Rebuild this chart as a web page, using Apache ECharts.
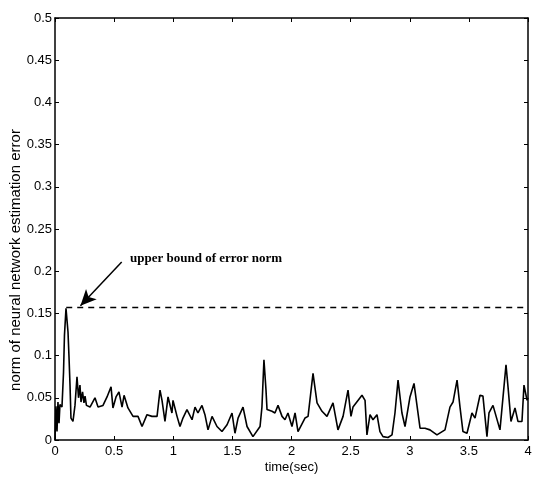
<!DOCTYPE html>
<html>
<head>
<meta charset="utf-8">
<script src="https://cdn.jsdelivr.net/npm/echarts@6/dist/echarts.min.js"></script>
<style>
  html, body { margin: 0; padding: 0; background: #fff; }
  #chart { width: 542px; height: 477px; }
</style>
</head>
<body>
<div id="chart"></div>
<script>
// time (sec) and error norm
var timeData = [
  0, 0.008, 0.017, 0.025, 0.034, 0.042, 0.059, 0.072, 0.080, 0.093,
  0.101, 0.110, 0.118, 0.127, 0.135, 0.152, 0.169, 0.186, 0.199, 0.211,
  0.220, 0.233, 0.245, 0.254, 0.266, 0.296, 0.338, 0.364, 0.406, 0.440,
  0.474, 0.490, 0.516, 0.541, 0.567, 0.584, 0.617, 0.660, 0.702, 0.736,
  0.778, 0.820, 0.863, 0.888, 0.905, 0.930, 0.956, 0.989, 0.998, 1.032,
  1.057, 1.082, 1.116, 1.159, 1.184, 1.209, 1.243, 1.268, 1.294, 1.328,
  1.370, 1.412, 1.455, 1.497, 1.522, 1.548, 1.590, 1.624, 1.674, 1.734,
  1.750, 1.767, 1.784, 1.793, 1.835, 1.860, 1.886, 1.920, 1.945, 1.970,
  2.004, 2.030, 2.055, 2.114, 2.140, 2.182, 2.216, 2.258, 2.300, 2.351,
  2.393, 2.436, 2.478, 2.503, 2.520, 2.596, 2.622, 2.638, 2.664, 2.689,
  2.723, 2.748, 2.774, 2.816, 2.850, 2.875, 2.901, 2.934, 2.960, 3.002,
  3.036, 3.087, 3.129, 3.171, 3.230, 3.298, 3.340, 3.366, 3.400, 3.425,
  3.450, 3.484, 3.526, 3.552, 3.594, 3.619, 3.653, 3.670, 3.704, 3.763,
  3.814, 3.831, 3.856, 3.890, 3.915, 3.949, 3.966, 3.992, 4.0
]
var errData = [
  0.0, 0.04, 0.01, 0.045, 0.02, 0.042, 0.039, 0.08, 0.124, 0.156,
  0.155, 0.128, 0.10, 0.065, 0.026, 0.022, 0.041, 0.075, 0.05, 0.065,
  0.045, 0.057, 0.044, 0.052, 0.041, 0.039, 0.05, 0.039, 0.041, 0.051,
  0.063, 0.038, 0.051, 0.057, 0.039, 0.053, 0.038, 0.028, 0.028, 0.016,
  0.030, 0.028, 0.028, 0.059, 0.047, 0.022, 0.051, 0.032, 0.047, 0.028,
  0.016, 0.026, 0.036, 0.024, 0.039, 0.032, 0.041, 0.030, 0.012, 0.028,
  0.016, 0.010, 0.018, 0.032, 0.008, 0.026, 0.039, 0.016, 0.004, 0.016,
  0.039, 0.095, 0.060, 0.036, 0.034, 0.032, 0.041, 0.028, 0.024, 0.032,
  0.016, 0.032, 0.010, 0.026, 0.028, 0.079, 0.044, 0.034, 0.028, 0.044,
  0.012, 0.028, 0.059, 0.028, 0.039, 0.053, 0.047, 0.006, 0.030, 0.024,
  0.030, 0.010, 0.004, 0.003, 0.006, 0.032, 0.071, 0.032, 0.016, 0.051,
  0.067, 0.014, 0.014, 0.012, 0.006, 0.012, 0.039, 0.045, 0.071, 0.039,
  0.010, 0.008, 0.032, 0.026, 0.053, 0.052, 0.004, 0.032, 0.041, 0.012,
  0.089, 0.063, 0.022, 0.038, 0.022, 0.022, 0.065, 0.047, 0.05
]
// upper bound of the error norm (dashed line)
var boundTime = [0.095, 4]
var boundValue = [0.157, 0.157]
var boundLabel = 'upper bound of error norm'

var lineData = []
for (var i = 0; i < timeData.length; i++) {
  lineData.push([timeData[i], errData[i]])
}
var boundData = []
for (var j = 0; j < boundTime.length; j++) {
  boundData.push([boundTime[j], boundValue[j]])
}

var myChart = echarts.init(document.getElementById('chart'))
var axisFont = { color: '#000', fontFamily: 'Liberation Sans', fontSize: 13 }
// MATLAB style box: axis lines on all four sides, ticks pointing inwards
function boxLine() {
  return { show: true, onZero: false, lineStyle: { color: '#000', width: 1.5 } }
}
function boxTick() {
  return { show: true, inside: true, length: 4, lineStyle: { color: '#000' } }
}
var option = {
  animation: false,
  backgroundColor: '#fff',
  grid: { left: 55, right: 14, top: 18, bottom: 37, containLabel: false, outerBoundsMode: 'none' },
  xAxis: [
    {
      type: 'value', min: 0, max: 4, interval: 0.5,
      name: 'time(sec)', nameLocation: 'middle', nameGap: 21, nameMoveOverlap: false,
      nameTextStyle: { color: '#000', fontFamily: 'Liberation Sans', fontSize: 13 },
      axisLine: boxLine(),
      axisTick: boxTick(),
      axisLabel: Object.assign({ margin: 5 }, axisFont),
      splitLine: { show: false }
    },
    {
      type: 'value', min: 0, max: 4, interval: 0.5, position: 'top',
      axisLine: boxLine(),
      axisTick: boxTick(),
      axisLabel: { show: false },
      splitLine: { show: false }
    }
  ],
  yAxis: [
    {
      type: 'value', min: 0, max: 0.5, interval: 0.05,
      name: 'norm of neural network estimation error', nameLocation: 'middle',
      nameGap: 32, nameMoveOverlap: false,
      nameTextStyle: {
        color: '#000', fontFamily: 'Liberation Sans', fontSize: 15,
        padding: [0, 62, 0, 0]
      },
      axisLine: boxLine(),
      axisTick: boxTick(),
      axisLabel: Object.assign({ margin: 3 }, axisFont),
      splitLine: { show: false }
    },
    {
      type: 'value', min: 0, max: 0.5, interval: 0.05, position: 'right',
      axisLine: boxLine(),
      axisTick: boxTick(),
      axisLabel: { show: false },
      splitLine: { show: false }
    }
  ],
  series: [
    {
      type: 'line',
      data: lineData,
      showSymbol: false,
      lineStyle: { color: '#000', width: 1.6 }
    },
    {
      type: 'line',
      data: boundData,
      showSymbol: false,
      lineStyle: { color: '#000', width: 1.5, type: [6, 5] },
      markLine: {
        silent: true,
        symbol: ['none', 'arrow'],
        symbolSize: [11, 16],
        lineStyle: { color: '#000', width: 1.5, type: 'solid' },
        label: { show: false },
        data: [[{ coord: [0.564, 0.211] }, { coord: [0.215, 0.159] }]]
      }
    }
  ],
  graphic: [
    {
      type: 'text', left: 130, top: 252,
      style: { text: boundLabel, fill: '#000', font: 'bold 13px "Liberation Serif"' }
    }
  ]
}
myChart.setOption(option)
</script>
</body>
</html>
